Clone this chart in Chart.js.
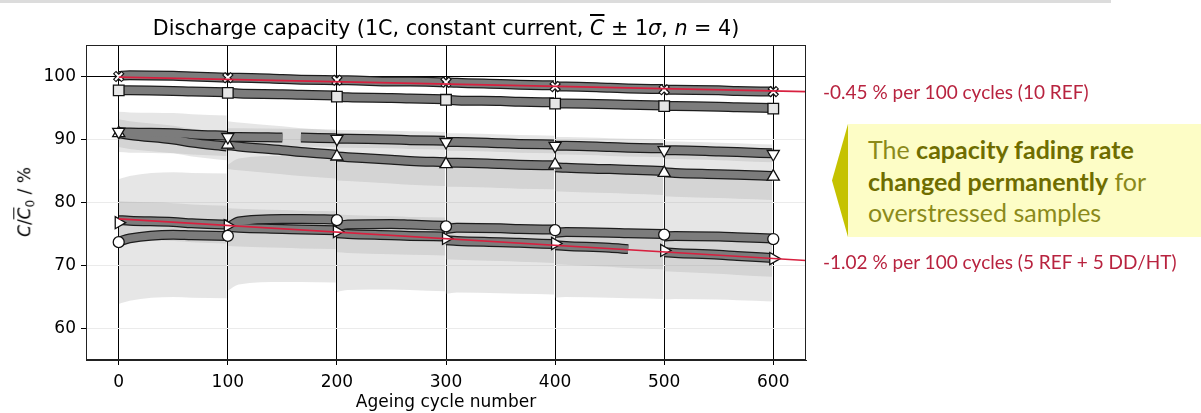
<!DOCTYPE html>
<html>
<head>
<meta charset="utf-8">
<script src="https://cdn.jsdelivr.net/npm/chart.js@4.4.1/dist/chart.umd.min.js"></script>
<style>
  html, body { margin: 0; padding: 0; background: #fff; }
  #wrap { position: relative; width: 1201px; height: 413px; overflow: hidden; font-family: 'DejaVu Sans', sans-serif; }
  #topbar { position: absolute; left: 0; top: 0; width: 1111px; height: 3px; background: #dcdcdc; }
  #chart { position: absolute; left: 0; top: 0; }
  .title { position: absolute; left: 86px; width: 720px; top: 16px; text-align: center; font-size: 20.7px; line-height: 24px; color: #000; white-space: nowrap; }
  .ov { text-decoration: overline; }
  .ylab { position: absolute; left: 26px; top: 202px; transform: translate(-50%, -50%) rotate(-90deg); font-size: 17px; white-space: nowrap; }
  .ylab sub { font-size: 12px; }
  .note { position: absolute; left: 823px; font-family: Lato, sans-serif; font-size: 19px; line-height: 22px; color: #b8233f; white-space: nowrap; }
  #arrow { position: absolute; left: 832px; top: 124px; width: 16px; height: 113px; background: #c5c200; clip-path: polygon(0 50%, 100% 0, 100% 100%); }
  #box { position: absolute; left: 848px; top: 124px; width: 353px; height: 113px; background: #fdfdc6; }
  #boxtext { position: absolute; left: 868px; top: 134px; font-family: Lato, sans-serif; font-size: 25px; line-height: 31.7px; color: #8b8a1a; white-space: nowrap; }
  #boxtext b { color: #6f6d00; }
</style>
</head>
<body>
<div id="wrap">
  <div id="topbar"></div>
  <canvas id="chart" width="1201" height="413"></canvas>
  <div class="title">Discharge capacity (1C, constant current, <i class="ov">C</i> ± 1<i>σ</i>, <i>n</i> = 4)</div>
  <div class="ylab"><i>C</i>/<i class="ov">C</i><sub>0</sub> / %</div>
  <div class="note" style="top:81px">-0.45 % per 100 cycles (10 REF)</div>
  <div class="note" style="top:251px">-1.02 % per 100 cycles (5 REF + 5 DD/HT)</div>
  <div id="arrow"></div>
  <div id="box"></div>
  <div id="boxtext">The <b>capacity fading rate</b><br><b>changed permanently</b> for<br>overstressed samples</div>
</div>
<script>
// ageing blocks of 100 cycles, values sampled at these cycle offsets inside each block
const segStarts = [0, 100, 200, 300, 400, 500];
const offsets = [0, 10, 50, 67, 99];
const markCycles = [0, 100, 200, 300, 400, 500, 600];
const xTicks = [0, 100, 200, 300, 400, 500, 600];
const yTicks = [60, 70, 80, 90, 100];

// crosses
const xMean = [
  [100.1, 100.2, 100.1, 100.0, 99.8],
  [99.8, 99.8, 99.6, 99.5, 99.4],
  [99.4, 99.4, 99.2, 99.2, 99.1],
  [99.1, 99.0, 98.8, 98.7, 98.6],
  [98.4, 98.4, 98.2, 98.1, 98.0],
  [97.9, 97.9, 97.8, 97.7, 97.6]
];
const xSigma = [0.3, 0.3, 0.3, 0.3, 0.3, 0.3];
const xMarks = [100.0, 99.8, 99.4, 99.1, 98.4, 97.9, 97.6];

// squares
const sqMean = [
  [97.8, 97.8, 97.7, 97.6, 97.5],
  [97.4, 97.3, 97.2, 97.1, 97.0],
  [96.8, 96.7, 96.6, 96.5, 96.4],
  [96.3, 96.2, 96.1, 96.0, 95.9],
  [95.7, 95.7, 95.6, 95.5, 95.4],
  [95.3, 95.3, 95.2, 95.1, 95.0]
];
const sqSigma = [0.4, 0.4, 0.4, 0.4, 0.4, 0.4];
const sqMarks = [97.8, 97.4, 96.8, 96.3, 95.7, 95.3, 94.9];

// down triangles
const downMean = [
  [91.2, 91.1, 91.0, 90.8, 90.6],
  [90.4, 90.4, 90.3, 90.3, 90.2],
  [90.1, 90.1, 90.0, 89.9, 89.8],
  [89.6, 89.6, 89.4, 89.3, 89.2],
  [89.0, 89.0, 88.8, 88.7, 88.6],
  [88.3, 88.3, 88.1, 88.0, 87.8]
];
const downSigma = [3.2, 1.4, 1.4, 1.4, 1.4, 1.4];
const downMarks = [91.2, 90.4, 90.1, 89.6, 89.0, 88.3, 87.7];

// up triangles
const upMean = [
  [91.0, 90.7, 90.0, 89.5, 88.9],
  [89.1, 88.9, 88.3, 88.0, 87.6],
  [87.3, 87.2, 86.8, 86.6, 86.4],
  [86.3, 86.3, 86.1, 86.0, 85.9],
  [85.6, 85.5, 85.3, 85.2, 85.0],
  [84.8, 84.7, 84.5, 84.4, 84.2]
];
const upSigma = [2.2, 3.8, 3.8, 3.8, 3.8, 3.8];
const upMarks = [91.0, 89.2, 87.3, 86.1, 86.0, 84.7, 84.1];

// circles
const circMean = [
  [73.8, 74.3, 74.9, 74.8, 74.7],
  [76.0, 77.0, 77.4, 77.4, 77.3],
  [76.2, 76.5, 76.6, 76.5, 76.3],
  [75.8, 76.0, 75.9, 75.8, 75.7],
  [75.2, 75.3, 75.2, 75.1, 75.0],
  [74.6, 74.7, 74.6, 74.5, 74.3]
];
const circSigma = [9.9, 10.0, 10.4, 10.3, 10.3, 10.0];
const circMarks = [73.7, 74.7, 77.2, 76.2, 75.6, 74.9, 74.2];

// right triangles
const rightMean = [
  [77.2, 77.1, 76.9, 76.7, 76.5],
  [76.1, 76.0, 75.8, 75.7, 75.6],
  [75.1, 75.0, 74.8, 74.7, 74.6],
  [74.0, 73.9, 73.7, 73.6, 73.4],
  [73.2, 73.1, 72.8, 72.6, 72.4],
  [72.1, 72.0, 71.7, 71.5, 71.2]
];
const rightSigma = [3.0, 3.0, 3.0, 3.0, 3.0, 3.0];
const rightMarks = [76.8, 76.3, 75.4, 74.3, 73.5, 72.4, 71.1];

// missing data: [series, block, break after offset index]
const gapBreaks = [['down', 1, 2], ['right', 4, 3]];

// linear fits
const trendCycles = [0, 630];
const trendRef = [99.9, 97.6];
const trendOver = [77.4, 70.8];

const series = [
  { key: 'x', mean: xMean, sigma: xSigma, marks: xMarks, style: 'crossRot', rot: 0 },
  { key: 'sq', mean: sqMean, sigma: sqSigma, marks: sqMarks, style: 'rect', rot: 0 },
  { key: 'down', mean: downMean, sigma: downSigma, marks: downMarks, style: 'triangle', rot: 180 },
  { key: 'up', mean: upMean, sigma: upSigma, marks: upMarks, style: 'triangle', rot: 0 },
  { key: 'circ', mean: circMean, sigma: circSigma, marks: circMarks, style: 'circle', rot: 0 },
  { key: 'right', mean: rightMean, sigma: rightSigma, marks: rightMarks, style: 'triangle', rot: 90 }
];

function buildPoints(s, shift) {
    const pts = [];
    segStarts.forEach((start, i) => {
        offsets.forEach((o, j) => {
            pts.push({ x: start + o, y: s.mean[i][j] + shift * s.sigma[i] });
            if (shift === 0 && gapBreaks.some(g => g[0] === s.key && g[1] === i && g[2] === j)) {
                pts.push({ x: start + o + 1, y: null });
            }
        });
        pts.push({ x: start + 99.5, y: null });
    });
    return pts;
}

const lineBase = { pointRadius: 0, fill: false, cubicInterpolationMode: 'monotone', spanGaps: false };
const datasets = [];

// +/- 1 sigma bands
series.forEach(s => {
    datasets.push({ ...lineBase, data: buildPoints(s, 1), borderWidth: 0, borderColor: 'transparent', order: 6 });
    datasets.push({ ...lineBase, data: buildPoints(s, -1), borderWidth: 0, borderColor: 'transparent',
        fill: '-1', backgroundColor: 'rgba(160,160,160,0.26)', order: 6 });
});

// mean curves, outlined
series.forEach(s => {
    datasets.push({ ...lineBase, data: buildPoints(s, 0), borderColor: '#1c1c1c', borderWidth: 10, order: 5 });
    datasets.push({ ...lineBase, data: buildPoints(s, 0), borderColor: '#7c7c7c', borderWidth: 7.5, order: 4 });
});

// markers every 100 cycles
series.forEach(s => {
    const pts = markCycles.map((c, i) => ({ x: c, y: s.marks[i] }));
    if (s.style === 'crossRot') {
        datasets.push({ data: pts, showLine: false, pointStyle: 'crossRot', pointRadius: 6,
            pointBorderColor: '#111', pointBorderWidth: 4.5, order: 2 });
        datasets.push({ data: pts, showLine: false, pointStyle: 'crossRot', pointRadius: 5,
            pointBorderColor: '#fff', pointBorderWidth: 2, order: 1 });
    } else {
        const r = s.style === 'rect' ? 7.5 : (s.style === 'circle' ? 5.5 : 7);
        datasets.push({ data: pts, showLine: false, pointStyle: s.style, pointRotation: s.rot, pointRadius: r,
            pointBackgroundColor: s.style === 'rect' ? '#e6e6e6' : '#fff', pointBorderColor: '#111',
            pointBorderWidth: 1.3, order: 2 });
    }
});

[trendRef, trendOver].forEach(t => {
    datasets.push({ data: trendCycles.map((c, i) => ({ x: c, y: t[i] })), borderColor: '#d8203f',
        borderWidth: 1.6, pointRadius: 0, fill: false, order: 0 });
});

const frame = {
    id: 'frame',
    afterDraw(chart) {
        const { ctx, chartArea: a } = chart;
        ctx.save();
        ctx.strokeStyle = '#222';
        ctx.lineWidth = 1;
        ctx.strokeRect(a.left + 0.5, a.top + 0.5, a.right - a.left - 1, a.bottom - a.top - 1);
        ctx.restore();
    }
};

Chart.defaults.font.family = "'DejaVu Sans', sans-serif";
Chart.defaults.color = '#000';

new Chart(document.getElementById('chart'), {
    type: 'line',
    data: { datasets },
    options: {
        responsive: false,
        animation: false,
        layout: { padding: { top: 45, right: 395, left: 0, bottom: 0 } },
        plugins: { legend: { display: false }, tooltip: { enabled: false } },
        scales: {
            x: {
                type: 'linear', min: -30, max: 630,
                afterBuildTicks(scale) { scale.ticks = xTicks.map(v => ({ value: v })); },
                ticks: { font: { size: 17 }, padding: 7, maxRotation: 0 },
                grid: { color: '#000', lineWidth: 1, tickLength: 5, tickColor: '#000' },
                border: { color: '#222' },
                title: { display: true, text: 'Ageing cycle number', font: { size: 17 }, padding: { top: 0, bottom: 0 } },
                afterFit(scale) { scale.height = 53; }
            },
            y: {
                min: 55, max: 105,
                afterBuildTicks(scale) { scale.ticks = yTicks.map(v => ({ value: v })); },
                ticks: { font: { size: 17 }, padding: 5 },
                grid: { color: ctx => (ctx.tick && ctx.tick.value === 100 ? '#000' : '#ebebeb'), lineWidth: 1, tickLength: 5, tickColor: '#000' },
                border: { color: '#222' },
                afterFit(scale) { scale.width = 86; }
            }
        }
    },
    plugins: [frame]
});
</script>
</body>
</html>
